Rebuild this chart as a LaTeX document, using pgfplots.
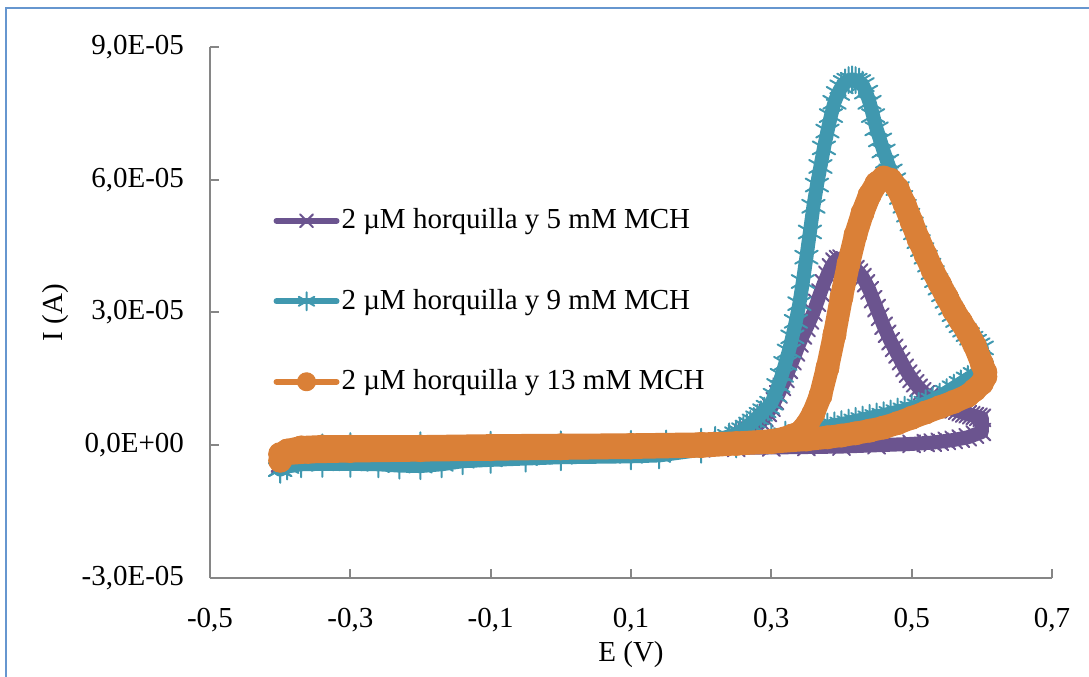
\documentclass[border=0pt]{standalone}
\usepackage{fontspec}
\setmainfont{Liberation Serif}
\usepackage{pgfplots}
\pgfplotsset{compat=1.18}
\usepackage{pgfplotstable}

\definecolor{cpurple}{RGB}{107,84,143}
\definecolor{cteal}{RGB}{64,152,175}
\definecolor{corange}{RGB}{218,128,55}
\definecolor{axisgray}{RGB}{134,134,134}
\definecolor{frameblue}{RGB}{102,150,207}

% E (V), I (1E-5 A)
\pgfplotstableread{
E I
-0.40 -0.45
-0.39 -0.22
-0.37 -0.12
-0.34 -0.08
-0.30 -0.05
-0.25 -0.03
-0.20 -0.02
-0.15 -0.01
-0.10 0.00
-0.05 0.00
0.00 0.00
0.05 0.01
0.10 0.01
0.15 0.02
0.20 0.05
0.23 0.10
0.25 0.18
0.255 0.21
0.26 0.25
0.265 0.29
0.27 0.33
0.275 0.39
0.28 0.45
0.285 0.53
0.29 0.62
0.295 0.73
0.30 0.85
0.305 1.00
0.31 1.15
0.315 1.32
0.32 1.50
0.325 1.70
0.33 1.90
0.335 2.10
0.34 2.30
0.345 2.48
0.35 2.65
0.355 2.82
0.36 3.00
0.365 3.22
0.37 3.45
0.375 3.66
0.38 3.85
0.385 4.02
0.39 4.15
0.395 4.21
0.40 4.22
0.405 4.18
0.41 4.12
0.415 4.06
0.42 3.98
0.425 3.90
0.43 3.80
0.435 3.66
0.44 3.50
0.445 3.30
0.45 3.10
0.455 2.90
0.46 2.70
0.465 2.52
0.47 2.35
0.475 2.20
0.48 2.05
0.485 1.90
0.49 1.75
0.495 1.62
0.50 1.50
0.505 1.40
0.51 1.30
0.515 1.22
0.52 1.15
0.525 1.09
0.53 1.04
0.535 0.99
0.54 0.95
0.545 0.91
0.55 0.88
0.555 0.84
0.56 0.81
0.565 0.78
0.57 0.75
0.575 0.72
0.58 0.70
0.585 0.68
0.59 0.66
0.595 0.64
0.60 0.62
0.60 0.30
0.59 0.24
0.58 0.18
0.57 0.15
0.56 0.12
0.55 0.10
0.54 0.08
0.53 0.06
0.52 0.05
0.50 0.03
0.45 0.00
0.40 -0.03
0.35 -0.04
0.30 -0.05
0.25 -0.06
0.20 -0.07
0.10 -0.09
0.00 -0.11
-0.10 -0.14
-0.20 -0.18
-0.30 -0.22
-0.36 -0.28
-0.40 -0.40
}\purpledata

\pgfplotstableread{
E I
-0.40 -0.55
-0.39 -0.30
-0.37 -0.12
-0.34 -0.05
-0.30 -0.02
-0.20 0.00
-0.10 0.01
0.00 0.02
0.10 0.03
0.15 0.04
0.20 0.08
0.22 0.12
0.24 0.20
0.25 0.26
0.255 0.30
0.26 0.35
0.265 0.41
0.27 0.48
0.275 0.55
0.28 0.62
0.285 0.70
0.29 0.78
0.295 0.86
0.30 0.95
0.305 1.13
0.31 1.35
0.315 1.58
0.32 1.85
0.325 2.13
0.33 2.45
0.335 2.80
0.34 3.20
0.345 3.70
0.35 4.25
0.355 4.82
0.36 5.40
0.365 5.88
0.37 6.30
0.375 6.72
0.38 7.10
0.385 7.45
0.39 7.75
0.395 7.95
0.40 8.10
0.405 8.20
0.41 8.25
0.415 8.27
0.42 8.25
0.425 8.22
0.43 8.15
0.435 7.98
0.44 7.75
0.445 7.45
0.45 7.15
0.455 6.90
0.46 6.65
0.465 6.42
0.47 6.20
0.475 6.00
0.48 5.80
0.485 5.60
0.49 5.40
0.495 5.20
0.50 5.00
0.505 4.80
0.51 4.60
0.515 4.42
0.52 4.25
0.525 4.07
0.53 3.90
0.535 3.72
0.54 3.55
0.545 3.40
0.55 3.25
0.555 3.10
0.56 2.95
0.565 2.82
0.57 2.70
0.575 2.60
0.58 2.50
0.585 2.42
0.59 2.35
0.595 2.27
0.60 2.20
0.60 1.75
0.59 1.60
0.58 1.50
0.57 1.40
0.56 1.30
0.55 1.20
0.54 1.10
0.53 1.02
0.52 0.95
0.51 0.89
0.50 0.84
0.49 0.80
0.48 0.76
0.47 0.72
0.46 0.68
0.45 0.65
0.44 0.62
0.43 0.58
0.42 0.55
0.41 0.51
0.40 0.48
0.39 0.45
0.38 0.42
0.37 0.39
0.36 0.36
0.35 0.33
0.34 0.30
0.32 0.24
0.30 0.18
0.28 0.12
0.25 0.02
0.20 -0.10
0.14 -0.23
0.10 -0.25
0.00 -0.27
-0.05 -0.30
-0.10 -0.33
-0.14 -0.36
-0.17 -0.43
-0.20 -0.47
-0.23 -0.46
-0.26 -0.43
-0.30 -0.42
-0.34 -0.42
-0.37 -0.43
-0.39 -0.48
-0.40 -0.55
}\tealdata

\pgfplotstableread{
E I
-0.40 -0.35
-0.39 -0.12
-0.37 -0.05
-0.34 -0.03
-0.30 -0.03
-0.20 -0.03
-0.10 -0.01
0.00 0.00
0.10 0.01
0.20 0.03
0.25 0.05
0.30 0.10
0.32 0.16
0.33 0.22
0.34 0.28
0.35 0.45
0.36 0.72
0.37 1.12
0.38 1.75
0.39 2.50
0.40 3.35
0.41 4.10
0.42 4.75
0.43 5.25
0.44 5.65
0.45 5.92
0.46 6.05
0.47 6.00
0.48 5.80
0.49 5.45
0.50 5.05
0.51 4.65
0.52 4.30
0.53 3.95
0.54 3.65
0.55 3.35
0.56 3.05
0.57 2.80
0.58 2.55
0.59 2.25
0.60 1.85
0.605 1.65
0.605 1.55
0.60 1.40
0.59 1.25
0.58 1.12
0.56 0.98
0.54 0.86
0.52 0.74
0.50 0.62
0.48 0.50
0.46 0.40
0.44 0.33
0.42 0.27
0.40 0.22
0.38 0.18
0.35 0.13
0.30 0.07
0.25 0.03
0.20 -0.02
0.10 -0.05
0.00 -0.07
-0.10 -0.09
-0.20 -0.11
-0.30 -0.13
-0.36 -0.15
-0.40 -0.20
}\orangedata

\begin{document}
\fontsize{14.5}{17}\selectfont
\begin{tikzpicture}
\useasboundingbox (-105pt,-49pt) rectangle (439.5pt,289pt);
\draw[frameblue, line width=1pt] (-102pt,-60pt) -- (-102pt,285pt) -- (450pt,285pt);
\begin{axis}[
  scale only axis, width=421pt, height=265.5pt,
  xmin=-0.5, xmax=0.7, ymin=-3, ymax=9,
  clip mode=individual,
  axis x line=bottom, axis y line=left,
  axis line style={-, draw=axisgray, line width=1pt},
  xtick={-0.5,-0.3,-0.1,0.1,0.3,0.5,0.7},
  xticklabels={{-0,5},{-0,3},{-0,1},{0,1},{0,3},{0,5},{0,7}},
  ytick={-3,0,3,6,9},
  yticklabels={{-3,0E-05},{0,0E+00},{3,0E-05},{6,0E-05},{9,0E-05}},
  tick align=inside,
  major tick length=4.5pt,
  tick style={draw=axisgray, line width=1pt},
  tick label style={font=\fontsize{14.5}{17}\selectfont},
  xticklabel style={anchor=north, yshift=-10pt},
  yticklabel style={anchor=east, xshift=-8pt},
  label style={font=\fontsize{14.5}{17}\selectfont},
  xlabel={E (V)},
  ylabel={I (A)},
  xlabel style={at={(axis description cs:0.5,0)}, anchor=center, yshift=-38.5pt},
  ylabel style={at={(axis description cs:-0.184,0.5)}, anchor=center},
  legend style={at={(axis description cs:0.075,0.704)}, anchor=north west,
    draw=none, fill=none, font=\fontsize{14.5}{17}\selectfont, row sep=24pt,
    inner sep=0pt, nodes={inner xsep=1pt}},
  legend cell align=left,
  legend image code/.code={
    \draw[line width=3pt, mark repeat=2, mark phase=2, mark size=4.5pt] plot coordinates {(0pt,0pt) (15pt,0pt) (30pt,0pt)};
  },
]
\addplot[cpurple, line width=7pt, line join=round, line cap=round,
  mark=x, mark size=6pt, mark options={solid, line width=1pt}] table[x=E,y=I] {\purpledata};
\addlegendentry{2 µM horquilla y 5 mM MCH}
\addplot[cteal, line width=7pt, line join=round, line cap=round,
  mark=asterisk, mark size=6.5pt, mark options={solid, line width=1pt}] table[x=E,y=I] {\tealdata};
\addlegendentry{2 µM horquilla y 9 mM MCH}
\addplot[corange, line width=11.5pt, line join=round, line cap=round,
  mark=*, mark size=5.75pt, mark options={solid, line width=0.5pt, fill=corange}] table[x=E,y=I] {\orangedata};
\addlegendentry{2 µM horquilla y 13 mM MCH}
\end{axis}
\end{tikzpicture}
\end{document}
